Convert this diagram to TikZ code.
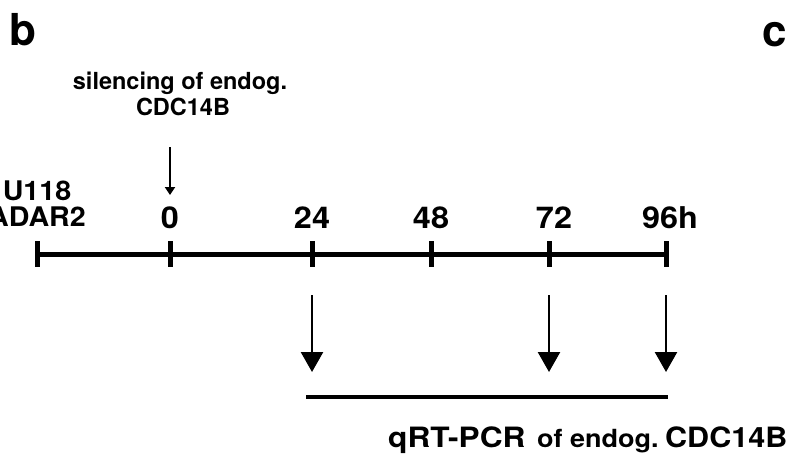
\documentclass[tikz,border=0pt]{standalone}
\usepackage{fontspec}
\setmainfont{TeX Gyre Heros}
\usetikzlibrary{arrows.meta}
\newcommand{\sxt}[2]{\scalebox{#1}[1]{#2}}
\begin{document}
\begin{tikzpicture}[x=1pt,y=-1pt,
  lbl/.style={inner sep=0pt, anchor=base, font=\bfseries},
  panel/.style={lbl, anchor=base west, font=\bfseries\fontsize{44}{44}\selectfont},
  num/.style={lbl, font=\bfseries\fontsize{30}{30}\selectfont},
  cell/.style={lbl, font=\bfseries\fontsize{27}{27}\selectfont},
  note/.style={lbl, font=\bfseries\fontsize{23.5}{23.5}\selectfont},
  bigtxt/.style={lbl, anchor=base west, font=\bfseries\fontsize{28}{28}\selectfont},
  smalltxt/.style={lbl, anchor=base west, font=\bfseries\fontsize{25}{25}\selectfont},
  axis/.style={line width=5pt},
  tickmark/.style={line width=5pt},
  smallarrow/.style={line width=1.8pt, -{Triangle[length=8pt,width=10pt]}},
  bigarrow/.style={line width=2.5pt, -{Triangle[length=20pt,width=22pt]}},
  span/.style={line width=4pt}]
\useasboundingbox (0,0) rectangle (787,456);
\clip (0,0) rectangle (787,456);
\fill[white] (0,0) rectangle (787,456);

% panel letters
\node[panel] (pb) at (9,45) {b};
\node[panel] (pc) at (762,46) {c};

% timeline
\coordinate (t0) at (37,254);
\coordinate (t1) at (170,254);
\coordinate (t2) at (312,254);
\coordinate (t3) at (431,254);
\coordinate (t4) at (549,254);
\coordinate (t5) at (666,254);
\draw[axis] (t0) -- (t5);
\foreach \t in {t0,t1,t2,t3,t4,t5}
  \draw[tickmark] ([yshift=13pt]\t) -- ([yshift=-13pt]\t);

% labels
\node[cell] (u118) at (37,200) {\sxt{1.06}{U118}};
\node[cell] (adar) at (37,226) {\sxt{1.06}{ADAR2}};
\node[num] (n0) at (170,228) {\sxt{1.08}{0}};
\node[num] (n24) at (312,228) {\sxt{1.08}{24}};
\node[num] (n48) at (431,228) {\sxt{1.08}{48}};
\node[num] (n72) at (554,228) {\sxt{1.08}{72}};
\node[num] (n96) at (670,228) {\sxt{1.08}{96h}};

% silencing
\node[note] (sil1) at (180,89) {silencing of endog.};
\node[note] (sil2) at (183,115) {CDC14B};
\coordinate (sa) at (170,147);
\coordinate (sb) at (170,195);
\draw[smallarrow] (sa) -- (sb);

% qRT-PCR arrows
\coordinate (a1) at (312,295);
\coordinate (b1) at (312,372);
\coordinate (a2) at (549,295);
\coordinate (b2) at (549,372);
\coordinate (a3) at (666,295);
\coordinate (b3) at (666,372);
\draw[bigarrow] (a1) -- (b1);
\draw[bigarrow] (a2) -- (b2);
\draw[bigarrow] (a3) -- (b3);

\coordinate (s1) at (306,397);
\coordinate (s2) at (668,397);
\draw[span] (s1) -- (s2);

\node[bigtxt] (q1) at (388,447) {\sxt{1.13}{qRT-PCR}};
\node[smalltxt] (q2) at (537,447) {\sxt{1.08}{of endog.}};
\node[bigtxt] (q3) at (665,447) {\sxt{1.09}{CDC14B}};
\end{tikzpicture}
\end{document}
